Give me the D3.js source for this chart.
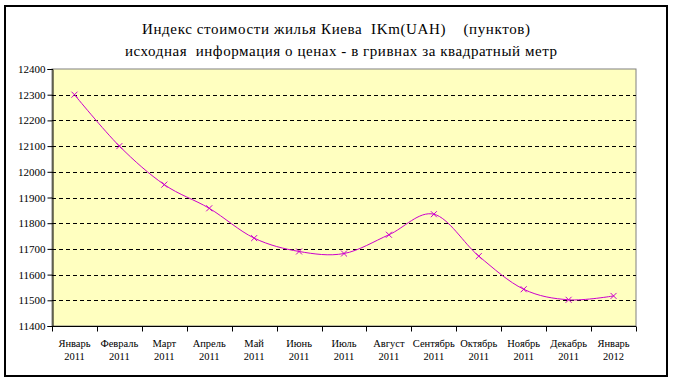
<!DOCTYPE html>
<html><head><meta charset="utf-8">
<script src="https://cdn.jsdelivr.net/npm/d3@7"></script>
<style>body{margin:0;background:#fff;}svg{display:block;}svg text{font-family:"Liberation Serif","Times New Roman",serif;}</style>
</head><body>
<script>
const months = ["Январь","Февраль","Март","Апрель","Май","Июнь","Июль","Август","Сентябрь","Октябрь","Ноябрь","Декабрь","Январь"];
const years = ["2011","2011","2011","2011","2011","2011","2011","2011","2011","2011","2011","2011","2012"];
const values = [12300,12100,11950,11858,11742,11690,11682,11755,11835,11672,11543,11502,11517];
const yTicks = [11400,11500,11600,11700,11800,11900,12000,12100,12200,12300,12400];
const title1 = "Индекс стоимости жилья Киева  IKm(UAH)    (пунктов)";
const title2 = "исходная  информация о ценах - в гривнах за квадратный метр";

const W=673,H=383;
const FONT='"Liberation Serif","Times New Roman",serif';
const svg=d3.select("body").append("svg").attr("width",W).attr("height",H);
svg.append("rect").attr("x",5).attr("y",6).attr("width",662).attr("height",370)
  .attr("fill","#fff").attr("stroke","#000").attr("stroke-width",2);

const m={l:52,r:636,t:69,b:326};
const idx=d3.range(months.length);
const x=d3.scaleBand().domain(idx).range([m.l,m.r]);
const y=d3.scaleLinear().domain([11400,12400]).range([m.b,m.t]);

svg.append("rect").attr("x",m.l).attr("y",m.t).attr("width",m.r-m.l).attr("height",m.b-m.t)
  .attr("fill","#ffffc0").attr("stroke","#808080").attr("stroke-width",1);

// grid
svg.append("g").selectAll("line").data(yTicks.filter(v=>v>11400&&v<12400)).join("line")
  .attr("x1",m.l).attr("x2",m.r).attr("y1",d=>Math.round(y(d))+0.5).attr("y2",d=>Math.round(y(d))+0.5)
  .attr("stroke","#000").attr("stroke-dasharray","4,3").attr("stroke-width",1);

// y axis
const ya=svg.append("g").attr("transform",`translate(${m.l+0.5},0)`)
  .call(d3.axisLeft(y).tickValues(yTicks).tickSize(5).tickFormat(d3.format("d")));
ya.attr("font-family",null).attr("font-size",null);
ya.select(".domain").attr("stroke","#000");
ya.selectAll("text").style("font-family",FONT).style("font-size","11px").attr("fill","#000").attr("x",-7);

// x axis
const xa=svg.append("g").attr("transform",`translate(0,${m.b+0.5})`);
xa.append("line").attr("x1",m.l).attr("x2",m.r).attr("stroke","#000");
xa.selectAll("line.t").data(d3.range(months.length+1)).join("line").attr("class","t")
  .attr("x1",i=>Math.round(m.l+i*x.step())+0.5).attr("x2",i=>Math.round(m.l+i*x.step())+0.5)
  .attr("y1",0).attr("y2",5).attr("stroke","#000");
const lab=xa.selectAll("text").data(idx).join("text")
  .attr("x",i=>x(i)+x.bandwidth()/2).attr("text-anchor","middle")
  .style("font-family",FONT).style("font-size","10.5px").attr("fill","#000");
lab.append("tspan").attr("x",i=>x(i)+x.bandwidth()/2).attr("y",20).text(i=>months[i]);
lab.append("tspan").attr("x",i=>x(i)+x.bandwidth()/2).attr("y",33).text(i=>years[i]);

// line
const line=d3.line().x((d,i)=>x(i)+x.bandwidth()/2).y(d=>y(d)).curve(d3.curveCatmullRom.alpha(0));
svg.append("path").datum(values).attr("d",line).attr("fill","none").attr("stroke","#cc00cc").attr("stroke-width",1);
const s=3;
const mk=svg.append("g").selectAll("g").data(values).join("g")
  .attr("transform",(d,i)=>`translate(${x(i)+x.bandwidth()/2},${y(d)})`);
mk.append("path").attr("d",`M${-s},${-s}L${s},${s}M${-s},${s}L${s},${-s}`).attr("stroke","#cc00cc").attr("stroke-width",1);

// titles
svg.append("text").attr("x",336).attr("y",34).attr("text-anchor","middle")
  .style("font-family",FONT).style("font-size","15px")
  .style("white-space","pre").attr("textLength",388).attr("lengthAdjust","spacing").text(title1);
svg.append("text").attr("x",341).attr("y",56).attr("text-anchor","middle")
  .style("font-family",FONT).style("font-size","15px")
  .style("white-space","pre").attr("textLength",432).attr("lengthAdjust","spacing").text(title2);
</script>
</body></html>
